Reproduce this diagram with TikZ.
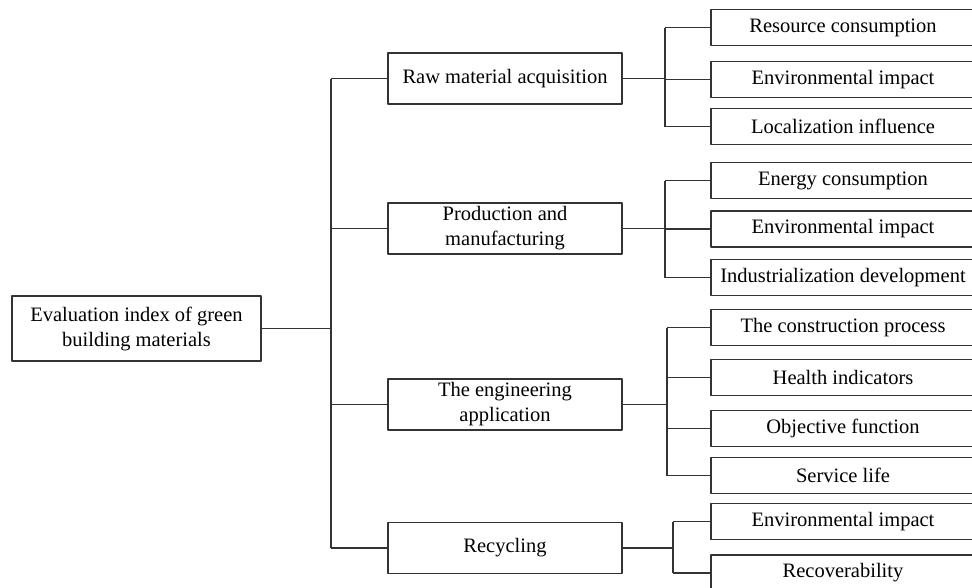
\documentclass[tikz,border=0pt]{standalone}
\usepackage{fontspec}
\setmainfont{Liberation Serif}
\usetikzlibrary{positioning}
\definecolor{linegray}{HTML}{333333}
\tikzset{
  box/.style={draw=linegray, line width=1.2pt, align=center, inner sep=0pt, font=\fontsize{20.5}{25}\selectfont},
  rootbox/.style={box, minimum width=249pt, minimum height=65pt},
  catbox/.style={box, minimum width=234pt, minimum height=51pt},
  leafbox/.style={box, minimum width=264pt, minimum height=36pt},
  link/.style={draw=linegray, line width=1.2pt}
}
\begin{document}
\begin{tikzpicture}[x=1pt,y=-1pt,line join=round]
				\clip (0,0) rectangle (972,587);
				% root and categories
				\node[rootbox] (root) at (136.5,328.5) {Evaluation index of green\\building materials};
				\node[catbox] (raw) at (505,78.5) {Raw material acquisition};
				\node[catbox] (prod) at (505,228.5) {Production and\\manufacturing};
				\node[catbox] (eng) at (505,404.5) {The engineering\\application};
				\node[catbox] (rec) at (505,548) {Recycling};
				% leaves
				\node[leafbox] (r1) at (843,27.5) {Resource consumption};
				\node[leafbox] (r2) at (843,79.5) {Environmental impact};
				\node[leafbox] (r3) at (843,126.5) {Localization influence};
				\node[leafbox] (p1) at (843,180.5) {Energy consumption};
				\node[leafbox] (p2) at (843,229) {Environmental impact};
				\node[leafbox] (p3) at (843,277.5) {Industrialization development};
				\node[leafbox] (e1) at (843,327.5) {The construction process};
				\node[leafbox] (e2) at (843,377.5) {Health indicators};
				\node[leafbox] (e3) at (843,428.5) {Objective function};
				\node[leafbox] (e4) at (843,475.5) {Service life};
				\node[leafbox] (c1) at (843,521.5) {Environmental impact};
				\node[leafbox] (c2) at (843,573) {Recoverability};
				% trunk
				\coordinate (trunk) at (331,0);
				\draw[link] (root.east) -- (root.east -| trunk);
				\draw[link] (trunk |- raw) -- (trunk |- rec);
				\foreach \n in {raw,prod,eng,rec}
					\draw[link] (trunk |- \n) -- (\n.west);
				% branches
				\coordinate (bA) at (665,0);
				\coordinate (bB) at (667,0);
				\coordinate (bC) at (673,0);
				\draw[link] (raw.east) -- (raw.east -| bA) (bA |- r1) -- (bA |- r3);
				\foreach \n in {r1,r2,r3}
					\draw[link] (bA |- \n) -- (\n.west);
				\draw[link] (prod.east) -- (prod.east -| bA) (bA |- p1) -- (bA |- p3);
				\foreach \n in {p1,p2,p3}
					\draw[link] (bA |- \n) -- (\n.west);
				\draw[link] (eng.east) -- (eng.east -| bB) (bB |- e1) -- (bB |- e4);
				\foreach \n in {e1,e2,e3,e4}
					\draw[link] (bB |- \n) -- (\n.west);
				\draw[link] (rec.east) -- (rec.east -| bC) (bC |- c1) -- (bC |- c2);
				\foreach \n in {c1,c2}
					\draw[link] (bC |- \n) -- (\n.west);
\end{tikzpicture}
\end{document}
